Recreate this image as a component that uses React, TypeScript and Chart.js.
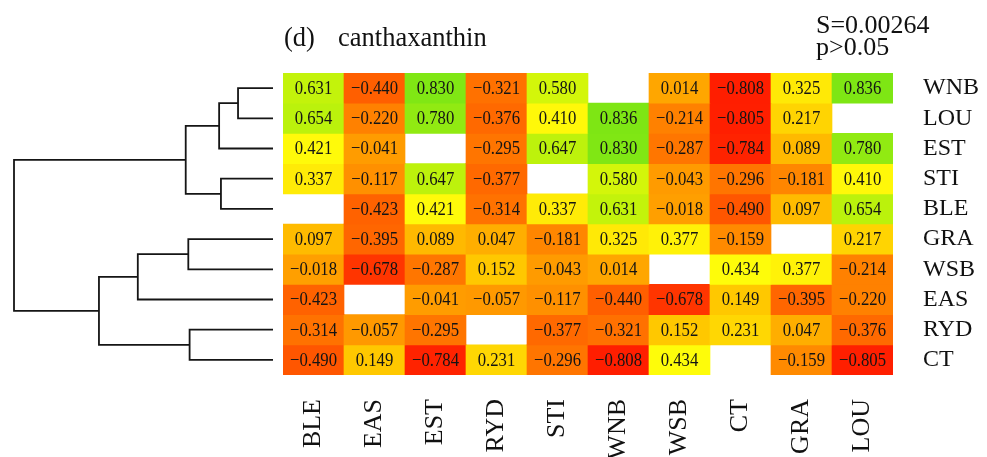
import React, { useEffect, useRef } from "react";
import { Chart, registerables } from "chart.js";

Chart.register(...registerables);

// ---- data ----
const ROWS = ["WNB", "LOU", "EST", "STI", "BLE", "GRA", "WSB", "EAS", "RYD", "CT"];
const COLS = ["BLE", "EAS", "EST", "RYD", "STI", "WNB", "WSB", "CT", "GRA", "LOU"];

const ROW_WNB = [0.631, -0.44, 0.83, -0.321, 0.58, null, 0.014, -0.808, 0.325, 0.836];
const ROW_LOU = [0.654, -0.22, 0.78, -0.376, 0.41, 0.836, -0.214, -0.805, 0.217, null];
const ROW_EST = [0.421, -0.041, null, -0.295, 0.647, 0.83, -0.287, -0.784, 0.089, 0.78];
const ROW_STI = [0.337, -0.117, 0.647, -0.377, null, 0.58, -0.043, -0.296, -0.181, 0.41];
const ROW_BLE = [null, -0.423, 0.421, -0.314, 0.337, 0.631, -0.018, -0.49, 0.097, 0.654];
const ROW_GRA = [0.097, -0.395, 0.089, 0.047, -0.181, 0.325, 0.377, -0.159, null, 0.217];
const ROW_WSB = [-0.018, -0.678, -0.287, 0.152, -0.043, 0.014, null, 0.434, 0.377, -0.214];
const ROW_EAS = [-0.423, null, -0.041, -0.057, -0.117, -0.44, -0.678, 0.149, -0.395, -0.22];
const ROW_RYD = [-0.314, -0.057, -0.295, null, -0.377, -0.321, 0.152, 0.231, 0.047, -0.376];
const ROW_CT = [-0.49, 0.149, -0.784, 0.231, -0.296, -0.808, 0.434, null, -0.159, -0.805];

const VALUES: (number | null)[][] = [
  ROW_WNB, ROW_LOU, ROW_EST, ROW_STI, ROW_BLE,
  ROW_GRA, ROW_WSB, ROW_EAS, ROW_RYD, ROW_CT,
];

// dendrogram merges: [left, right, height]; clusters referenced as "#k"
const MERGES: [string, string, number][] = [
  ["WNB", "LOU", 0.135],
  ["#0", "EST", 0.208],
  ["STI", "BLE", 0.201],
  ["#1", "#2", 0.337],
  ["GRA", "WSB", 0.327],
  ["#4", "EAS", 0.522],
  ["RYD", "CT", 0.322],
  ["#5", "#6", 0.672],
  ["#3", "#7", 1.0],
];

const TITLE_TAG = "(d)";
const TITLE_TEXT = "canthaxanthin";
const STAT_S = "S=0.00264";
const STAT_P = "p>0.05";

// ---- styles ----
const SERIF = "'Liberation Serif', 'Times New Roman', serif";
const COLOR_STOPS: [number, number[]][] = [
  [-0.81, [255, 30, 0]],
  [-0.44, [255, 95, 0]],
  [0.0, [255, 162, 0]],
  [0.15, [255, 200, 0]],
  [0.43, [255, 252, 10]],
  [0.6, [205, 245, 10]],
  [0.84, [125, 230, 20]],
];

function cellColor(v: number | null): string {
  if (v == null) return "rgba(0,0,0,0)";
  const s = COLOR_STOPS;
  if (v <= s[0][0]) return `rgb(${s[0][1].join(",")})`;
  for (let i = 1; i < s.length; i++) {
    if (v <= s[i][0]) {
      const t = (v - s[i - 1][0]) / (s[i][0] - s[i - 1][0]);
      const c = s[i - 1][1].map((a, k) => Math.round(a + (s[i][1][k] - a) * t));
      return `rgb(${c.join(",")})`;
    }
  }
  return `rgb(${s[s.length - 1][1].join(",")})`;
}

function fmt(v: number): string {
  return v.toFixed(3).replace("-", "\u2212");
}

const bgPlugin = {
  id: "bg",
  beforeDraw(chart: any) {
    const ctx = chart.ctx;
    ctx.save();
    ctx.fillStyle = "#ffffff";
    ctx.fillRect(0, 0, chart.width, chart.height);
    ctx.restore();
  },
};

const cellTextPlugin = {
  id: "cellText",
  afterDatasetsDraw(chart: any) {
    const ctx = chart.ctx;
    ctx.save();
    ctx.fillStyle = "#141414";
    ctx.font = `19px ${SERIF}`;
    ctx.textAlign = "center";
    ctx.textBaseline = "middle";
    chart.data.datasets.forEach((_ds: any, i: number) => {
      const meta = chart.getDatasetMeta(i);
      meta.data.forEach((bar: any, j: number) => {
        const v = VALUES[i][j];
        if (v == null || !bar) return;
        const p = bar.getCenterPoint();
        ctx.save();
        ctx.translate(p.x, p.y + 1);
        ctx.scale(0.88, 1);
        ctx.fillText(fmt(v), 0, 0);
        ctx.restore();
      });
    });
    ctx.restore();
  },
};

const DENDRO_GAP = 10;
const DENDRO_WIDTH = 259;

const dendroPlugin = {
  id: "dendro",
  afterDraw(chart: any) {
    const ctx = chart.ctx;
    const yScale = chart.scales.y;
    const leafX = chart.chartArea.left - DENDRO_GAP;
    const pos: Record<string, { x: number; y: number }> = {};
    ROWS.forEach((r, i) => {
      pos[r] = { x: leafX, y: yScale.getPixelForValue(i + 0.5) };
    });
    ctx.save();
    ctx.strokeStyle = "#151515";
    ctx.lineWidth = 1.8;
    ctx.lineJoin = "miter";
    ctx.lineCap = "butt";
    MERGES.forEach(([a, b, h], k) => {
      const A = pos[a];
      const B = pos[b];
      const x = leafX - h * DENDRO_WIDTH;
      ctx.beginPath();
      ctx.moveTo(A.x, A.y);
      ctx.lineTo(x, A.y);
      ctx.lineTo(x, B.y);
      ctx.lineTo(B.x, B.y);
      ctx.stroke();
      pos["#" + k] = { x, y: (A.y + B.y) / 2 };
    });
    ctx.restore();
  },
};

const headerPlugin = {
  id: "header",
  afterDraw(chart: any) {
    const ctx = chart.ctx;
    const left = chart.chartArea.left;
    ctx.save();
    ctx.fillStyle = "#111";
    ctx.textBaseline = "alphabetic";
    ctx.textAlign = "left";
    ctx.font = `26.5px ${SERIF}`;
    ctx.fillText(TITLE_TAG, left + 1, 46);
    ctx.fillText(TITLE_TEXT, left + 55, 46);
    ctx.font = `26px ${SERIF}`;
    ctx.fillText(STAT_S, 816, 33);
    ctx.fillText(STAT_P, 816, 55);
    ctx.restore();
  },
};

export default function App() {
  const ref = useRef<HTMLCanvasElement>(null);
  useEffect(() => {
    document.body.style.margin = "0";
    const datasets = ROWS.map((_r, i) => ({
      label: ROWS[i],
      data: VALUES[i].map((v) => (v == null ? null : [i, i + 1])),
      backgroundColor: VALUES[i].map((v) => cellColor(v)),
      borderWidth: 0,
      barPercentage: 1,
      categoryPercentage: 1,
      grouped: false,
      xAxisID: "x",
      yAxisID: "y",
    }));
    const chart = new Chart(ref.current as HTMLCanvasElement, {
      type: "bar",
      data: { labels: COLS, datasets: datasets as any },
      options: {
        animation: false,
        responsive: true,
        maintainAspectRatio: false,
        devicePixelRatio: 1,
        events: [],
        layout: { padding: { left: 283, top: 73, right: 0, bottom: 0 } },
        plugins: {
          legend: { display: false },
          tooltip: { enabled: false },
          title: { display: false },
        },
        scales: {
          x: {
            type: "category",
            position: "bottom",
            offset: true,
            grid: { display: false, drawTicks: false },
            border: { display: false },
            ticks: {
              autoSkip: false,
              minRotation: 90,
              maxRotation: 90,
              padding: 24,
              color: "#111",
              font: { family: SERIF, size: 26 },
            },
            afterFit: (s: any) => {
              s.height = 82;
            },
          },
          y: {
            type: "linear",
            min: 0,
            max: 10,
            reverse: true,
            display: false,
          },
          yRows: {
            type: "category",
            axis: "y",
            labels: ROWS,
            position: "right",
            offset: true,
            grid: { display: false, drawTicks: false },
            border: { display: false },
            ticks: {
              autoSkip: false,
              padding: 30,
              color: "#111",
              font: { family: SERIF, size: 24 },
            },
            afterFit: (s: any) => {
              s.width = 94;
            },
          },
        } as any,
      },
      plugins: [bgPlugin, cellTextPlugin, dendroPlugin, headerPlugin],
    });
    return () => chart.destroy();
  }, []);
  return (
    <div style={{ width: 987, height: 457, position: "relative", background: "#fff" }}>
      <canvas ref={ref} />
    </div>
  );
}
